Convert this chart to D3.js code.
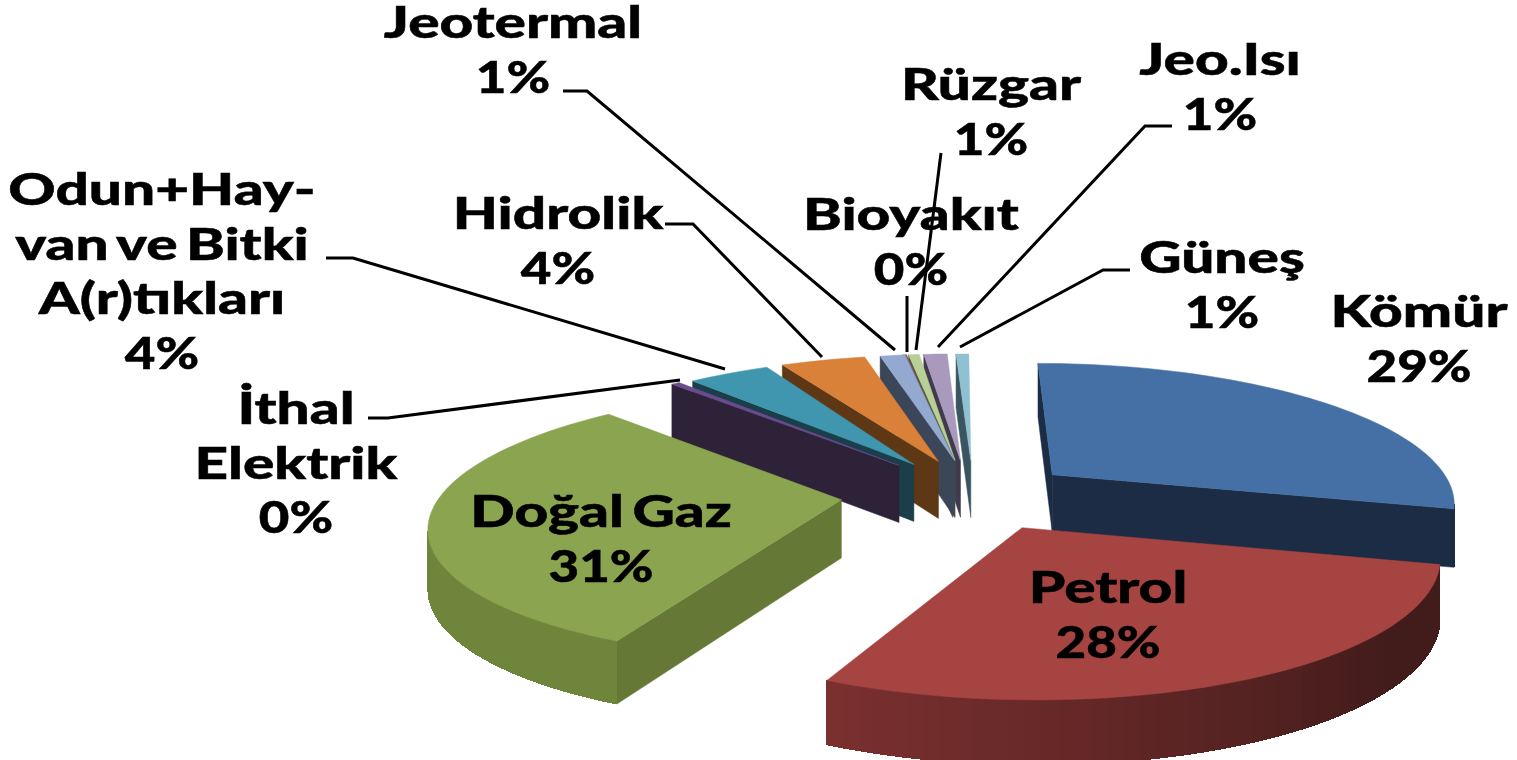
<!DOCTYPE html>
<html><head><meta charset="utf-8">
<script src="https://cdn.jsdelivr.net/npm/d3@7"></script>
<style>html,body{margin:0;padding:0;background:#fff;overflow:hidden}svg{display:block}text{font-family:Lato,"Noto Sans",sans-serif;font-weight:900;fill:#000}</style>
</head><body><svg id="c" width="1517" height="760"></svg>
<script>
// data
const categories = ["Kömür","Petrol","Doğal Gaz","İthal Elektrik","Odun+Hayvan ve Bitki A(r)tıkları","Hidrolik","Jeotermal","Bioyakıt","Rüzgar","Jeo.Isı","Güneş"];
const values = [29,28,31,0.4,4,4,1.2,0.2,0.5,1.1,0.6];
const labelLines = [["Kömür"],["Petrol"],["Doğal Gaz"],["İthal","Elektrik"],["Odun+Hay-","van ve Bitki","A(r)tıkları"],["Hidrolik"],["Jeotermal"],["Bioyakıt"],["Rüzgar"],["Jeo.Isı"],["Güneş"]];
// styles
const topColors = ["#4470a5","#a64442","#8aa44f","#6b4b8c","#4096ae","#d98138","#93a9cf","#7d5a5c","#b9cf96","#a99abd","#8fc1d3"];
const wallDark  = ["#1b2c44","#421c1b","#657836","#2d2238","#1a3f4a","#5e3714","#3b4658","#4f3c40","#4f5a40","#3f3a4c","#3a5560"];
const wallLight = ["#1b2c44","#7a302f","#70853c","#2d2238","#1a3f4a","#5e3714","#3b4658","#4f3c40","#4f5a40","#3f3a4c","#3a5560"];
// explosion layout
const explode = [0.28,0.29,0.28,0.27,0.26,0.265,0.27,0.27,0.27,0.27,0.27];
const explodeShiftDeg = [5,-6,0,10,10,10,9.5,6,6,6,8.5];
const scaleU = [0.97,0.945,0.965,0.96,0.96,1,0.98,1,1,1,1];
const scaleV = [1.06,1,1,1.04,1.05,1.05,1.05,1.05,1.05,1.05,1.05];
// label layout: centre x and baseline y of first line
const labelX = [1419,1108,601,296,162,558,513,911,991,1220,1222];
const labelY = [327,603,527,424,205,229,38,230,100,75,273];
// leader layout
const leaderPts = [
 [[368,418],[388,418],[680,380]],
 [[326,258],[353,258],[725,369]],
 [[665,224],[693,224],[822,357]],
 [[563,91],[587,91],[895,350]],
 [[907,296],[907,352]],
 [[941,153],[916,350]],
 [[1172,126],[1145,126],[938,347]],
 [[1130,270],[1103,270],[960,347]]
];
const cx=957, cy=494, rx=415, ry=130, persp=0.17, depth=58;
const fontSize=44, lineGap=54.7, stretch=1.33, stretchPct=1.2, wordGap=-4;

const svg=d3.select("#c");
const pie=d3.pie().sort(null).value(d=>d);
const arcs=pie(values);
const line=d3.line();
const shade=d3.scaleLinear().domain([130*Math.PI/180,205*Math.PI/180]).range([0,1]).clamp(true);

function proj(u,v,z){
  const s=1/(1-persp*v);
  const d=z*depth*(1+0.45*(s-1));
  return [cx+rx*u*s, cy+ry*v*s+d];
}
const slices=arcs.map((a,i)=>{
  const mid=(a.startAngle+a.endAngle)/2;
  const dir=mid+explodeShiftDeg[i]*Math.PI/180;
  const ou=explode[i]*Math.sin(dir), ov=-explode[i]*Math.cos(dir);
  const at=(t,z,r=1)=>proj(ou+r*scaleU[i]*Math.sin(t),ov-r*scaleV[i]*Math.cos(t),z);
  const apex=z=>proj(ou,ov,z);
  const n=Math.max(2,Math.ceil((a.endAngle-a.startAngle)/(Math.PI/90)));
  const ts=d3.range(n+1).map(k=>a.startAngle+(a.endAngle-a.startAngle)*k/n);
  return {i,a,mid,at,apex,ts,vKey:ov-0.6*Math.cos(mid)};
}).sort((p,q)=>p.vKey-q.vKey);

const cross=(e,c)=>e[0]*c[1]-e[1]*c[0];
const sub=(p,q)=>[p[0]-q[0],p[1]-q[1]];
function faces(e,c){return Math.sign(cross(e,c))!==Math.sign(cross(e,[0,1]));}

slices.forEach(s=>{
  const g=svg.append("g");
  const A=s.apex(0);
  const cen=s.at(s.mid,0,0.6);
  [s.a.startAngle,s.a.endAngle].forEach(t=>{
    const P=s.at(t,0);
    if(faces(sub(P,A),sub(cen,A))){
      g.append("path").attr("d",line([A,P,s.at(t,1),s.apex(1)])+"Z")
       .attr("fill",wallDark[s.i]).attr("stroke",wallDark[s.i]).attr("stroke-width",0.5);
    }
  });
  const col=d3.interpolateRgb(wallDark[s.i],wallLight[s.i]);
  d3.pairs(s.ts).forEach(([t0,t1])=>{
    const p0=s.at(t0,0),p1=s.at(t1,0);
    if(faces(sub(p1,p0),sub(A,p0))){
      const c=col(shade((t0+t1)/2));
      g.append("path").attr("d",line([p0,p1,s.at(t1,1),s.at(t0,1)])+"Z")
       .attr("fill",c).attr("stroke",c).attr("stroke-width",1).attr("shape-rendering","crispEdges");
    }
  });
  const outline=[A,...s.ts.map(t=>s.at(t,0))];
  g.append("path").attr("d",line(outline)+"Z").attr("fill",topColors[s.i])
   .attr("stroke",topColors[s.i]).attr("stroke-width",0.5);
});

leaderPts.forEach(p=>{
  svg.append("path").attr("d",line(p)).attr("fill","none").attr("stroke","#000").attr("stroke-width",3);
});
categories.forEach((c,i)=>{
  const rows=[...labelLines[i],Math.round(values[i])+"%"];
  rows.forEach((t,r)=>{
    const sx=r===rows.length-1?stretchPct:stretch;
    svg.append("text").attr("text-anchor","middle")
      .attr("transform",`translate(${labelX[i]},${labelY[i]+r*lineGap}) scale(${sx},1)`)
      .attr("font-size",fontSize).attr("word-spacing",wordGap).attr("stroke","#000").attr("stroke-width",0.5).text(t);
  });
});
</script></body></html>
